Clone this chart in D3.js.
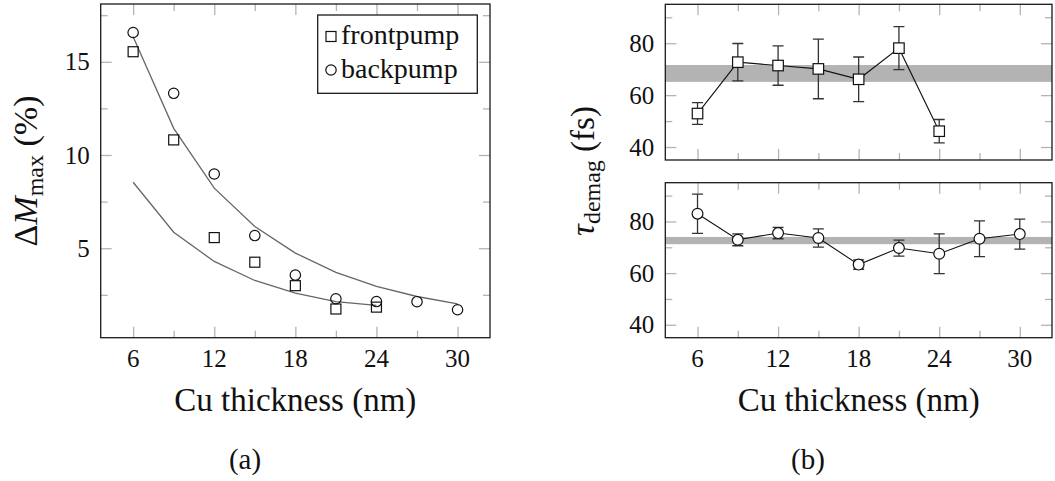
<!DOCTYPE html>
<html>
<head>
<meta charset="utf-8">
<script src="https://cdn.jsdelivr.net/npm/d3@7"></script>
<style>
  body { margin: 0; background: #fff; }
  svg text { font-family: 'Liberation Serif', 'DejaVu Serif', serif; fill: #111; }
</style>
</head>
<body>
<svg id="fig" width="1055" height="481"></svg>
<script>
// figura de dos paneles: (a) desmagnetizacion maxima vs espesor de Cu con ajustes,
// (b) tiempo de desmagnetizacion para frontpump (arriba) y backpump (abajo)

var grosor = [6, 9, 12, 15, 18, 21, 24, 27, 30];

// panel (a)
var frontpump = [15.54, 10.81, 5.57, 4.25, 2.99, 1.74, 1.84];
var backpump = [16.57, 13.31, 8.98, 5.68, 3.56, 2.29, 2.14, 2.13, 1.70];
var ajusteBack = [16.34, 11.43, 8.22, 6.16, 4.74, 3.70, 2.95, 2.41, 2.02];
var ajusteFront = [8.54, 5.86, 4.29, 3.27, 2.59, 2.14, 1.93];

// panel (b)
var tauFront = [52.9, 72.7, 71.4, 70.1, 66.1, 78.1, 46.1];
var errFront = [4.2, 7.2, 7.6, 11.5, 8.6, 8.3, 4.5];
var bandaFront = [65.1, 71.6];

var tauBack = [83.0, 72.9, 75.5, 73.6, 63.3, 69.7, 67.5, 73.3, 75.1];
var errBack = [7.6, 2.3, 2.2, 3.5, 1.8, 3.1, 7.7, 6.9, 5.8];
var bandaBack = [71.2, 74.0];

// ticks
var ticksX = [6, 12, 18, 24, 30];
var ticksXMenor = [9, 15, 21, 27];
var ticksM = [5, 10, 15];
var ticksMMenor = [2.5, 7.5, 12.5, 17.5];
var ticksTau = [40, 60, 80];
var ticksTauMenor = [50, 70, 90];

var FUENTE = "'Liberation Serif', 'DejaVu Serif', serif";

var svg = d3.select("#fig");
svg.append("rect").attr("width", 1055).attr("height", 481).attr("fill", "#fff");

var GRIS_TICK = "#b4b4b4";
var TAM_TICK = 25;

var xa = d3.scaleLinear().domain([3.6, 32.4]).range([100.7, 490]);
var ya = d3.scaleLinear().domain([0.2, 18.1]).range([337.7, 4]);

var xb = d3.scaleLinear().domain([3.6, 32.4]).range([665.3, 1052]);
var ybArriba = d3.scaleLinear().domain([35, 95]).range([160, 4.3]);
var ybAbajo = d3.scaleLinear().domain([35, 95]).range([337.7, 182.7]);

// ticks hacia adentro en los cuatro lados
function ticks(g, x, y, xMay, xMen, yMay, yMen) {
  var r = x.range(), s = y.range();
  function eje(gen, tr, vals, largo) {
    var a = g.append("g").attr("transform", tr)
      .call(gen.tickValues(vals).tickSize(largo).tickSizeOuter(0).tickFormat(""));
    a.select(".domain").remove();
    a.selectAll("line").attr("stroke", GRIS_TICK).attr("stroke-width", 1.3);
  }
  eje(d3.axisBottom(x), "translate(0," + s[0] + ")", xMay, -11);
  eje(d3.axisBottom(x), "translate(0," + s[0] + ")", xMen, -7);
  eje(d3.axisTop(x), "translate(0," + s[1] + ")", xMay, -11);
  eje(d3.axisTop(x), "translate(0," + s[1] + ")", xMen, -7);
  eje(d3.axisLeft(y), "translate(" + r[0] + ",0)", yMay, -11);
  eje(d3.axisLeft(y), "translate(" + r[0] + ",0)", yMen, -7);
  eje(d3.axisRight(y), "translate(" + r[1] + ",0)", yMay, -11);
  eje(d3.axisRight(y), "translate(" + r[1] + ",0)", yMen, -7);
}

function marco(g, x, y) {
  var r = x.range(), s = y.range();
  g.append("rect")
    .attr("x", r[0]).attr("y", s[1])
    .attr("width", r[1] - r[0]).attr("height", s[0] - s[1])
    .attr("fill", "none").attr("stroke", "#1a1a1a").attr("stroke-width", 1.3);
}

function texto(g, tam) {
  return g.append("text").attr("font-family", FUENTE).style("font-size", tam + "px");
}

function etiquetasY(g, x, y, vals) {
  vals.forEach(function (d) {
    texto(g, TAM_TICK)
      .attr("x", x.range()[0] - 11)
      .attr("y", y(d))
      .attr("dy", "0.34em")
      .attr("text-anchor", "end")
      .text(d);
  });
}

function etiquetasX(g, x, y, vals) {
  vals.forEach(function (d) {
    texto(g, TAM_TICK)
      .attr("x", x(d))
      .attr("y", y.range()[0] + 29)
      .attr("text-anchor", "middle")
      .text(d);
  });
}

function cuadrado(g, cx, cy, lado, relleno) {
  g.append("rect")
    .attr("x", cx - lado / 2).attr("y", cy - lado / 2)
    .attr("width", lado).attr("height", lado)
    .attr("fill", relleno).attr("stroke", "#111").attr("stroke-width", 1.2);
}

function circulo(g, cx, cy, r, relleno) {
  g.append("circle")
    .attr("cx", cx).attr("cy", cy).attr("r", r)
    .attr("fill", relleno).attr("stroke", "#111").attr("stroke-width", 1.2);
}

var linea = function (x, y, vals) {
  return d3.line()
    .x(function (d, i) { return x(grosor[i]); })
    .y(function (d) { return y(d); })(vals);
};

// ---------- panel (a) ----------
var ga = svg.append("g");
ticks(ga, xa, ya, ticksX, ticksXMenor, ticksM, ticksMMenor);

ga.append("path").attr("d", linea(xa, ya, ajusteBack))
  .attr("fill", "none").attr("stroke", "#666").attr("stroke-width", 1.3);
ga.append("path").attr("d", linea(xa, ya, ajusteFront))
  .attr("fill", "none").attr("stroke", "#666").attr("stroke-width", 1.3);

frontpump.forEach(function (v, i) { cuadrado(ga, xa(grosor[i]), ya(v), 10, "none"); });
backpump.forEach(function (v, i) { circulo(ga, xa(grosor[i]), ya(v), 5.2, "none"); });

marco(ga, xa, ya);
etiquetasY(ga, xa, ya, ticksM);
etiquetasX(ga, xa, ya, ticksX);

// leyenda
var ley = ga.append("g");
ley.append("rect").attr("x", 317.7).attr("y", 15).attr("width", 159.6).attr("height", 78.3)
  .attr("fill", "#fff").attr("stroke", "#1a1a1a").attr("stroke-width", 1.3);
cuadrado(ley, 331, 36.5, 10, "none");
texto(ley, 28).attr("x", 341).attr("y", 44).text("frontpump");
circulo(ley, 331, 70, 5.2, "none");
texto(ley, 28).attr("x", 341).attr("y", 77.5).text("backpump");

// titulo eje y (a)
var tya = texto(ga, 34)
  .attr("transform", "translate(37,171) rotate(-90)")
  .attr("text-anchor", "middle");
tya.append("tspan").text("Δ");
tya.append("tspan").style("font-style", "italic").text("M");
tya.append("tspan").attr("dy", 6).style("font-size", "24px").text("max");
tya.append("tspan").attr("dy", -6).text(" (%)");

texto(ga, 33).attr("x", (xa.range()[0] + xa.range()[1]) / 2).attr("y", 411)
  .attr("text-anchor", "middle").text("Cu thickness (nm)");
texto(ga, 29).attr("x", 245).attr("y", 469)
  .attr("text-anchor", "middle").text("(a)");

// ---------- panel (b) ----------
function panelTau(y, tau, err, banda, marca) {
  var g = svg.append("g");
  var r = xb.range();
  g.append("rect")
    .attr("x", r[0]).attr("width", r[1] - r[0])
    .attr("y", y(banda[1])).attr("height", y(banda[0]) - y(banda[1]))
    .attr("fill", "#b3b3b3");
  ticks(g, xb, y, ticksX, ticksXMenor, ticksTau, ticksTauMenor);

  g.append("path").attr("d", linea(xb, y, tau))
    .attr("fill", "none").attr("stroke", "#111").attr("stroke-width", 1.1);

  tau.forEach(function (v, i) {
    var cx = xb(grosor[i]);
    var y1 = y(v + err[i]), y0 = y(v - err[i]);
    g.append("path")
      .attr("d", "M" + cx + "," + y1 + "V" + y0 +
        "M" + (cx - 5.5) + "," + y1 + "H" + (cx + 5.5) +
        "M" + (cx - 5.5) + "," + y0 + "H" + (cx + 5.5))
      .attr("fill", "none").attr("stroke", "#333").attr("stroke-width", 1.3);
  });
  tau.forEach(function (v, i) {
    if (marca === "cuadrado") cuadrado(g, xb(grosor[i]), y(v), 10.5, "#fff");
    else circulo(g, xb(grosor[i]), y(v), 5.4, "#fff");
  });

  marco(g, xb, y);
  etiquetasY(g, xb, y, ticksTau);
  return g;
}

panelTau(ybArriba, tauFront, errFront, bandaFront, "cuadrado");
var gAbajo = panelTau(ybAbajo, tauBack, errBack, bandaBack, "circulo");
etiquetasX(gAbajo, xb, ybAbajo, ticksX);

var tyb = texto(svg, 33)
  .attr("transform", "translate(594,171) rotate(-90)")
  .attr("text-anchor", "middle");
tyb.append("tspan").style("font-style", "italic").text("τ");
tyb.append("tspan").attr("dy", 6).style("font-size", "24px").text("demag");
tyb.append("tspan").attr("dy", -6).text(" (fs)");

texto(svg, 33).attr("x", (xb.range()[0] + xb.range()[1]) / 2).attr("y", 411)
  .attr("text-anchor", "middle").text("Cu thickness (nm)");
texto(svg, 29).attr("x", 808).attr("y", 469)
  .attr("text-anchor", "middle").text("(b)");
</script>
</body>
</html>
